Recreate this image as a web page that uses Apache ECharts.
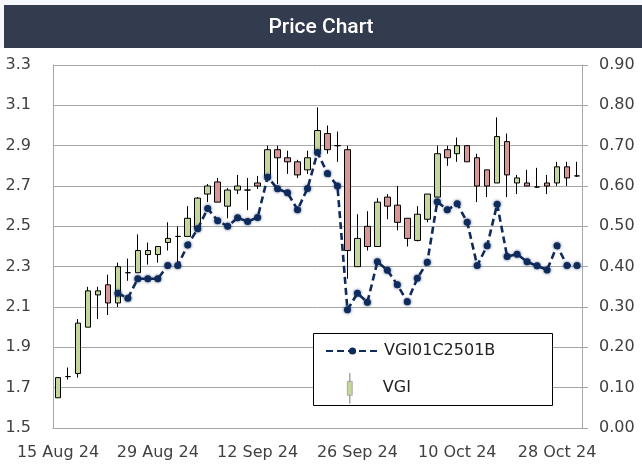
<!DOCTYPE html>
<html>
<head>
<meta charset="utf-8">
<script src="https://cdn.jsdelivr.net/npm/echarts@6/dist/echarts.min.js"></script>
<style>
  html, body { margin: 0; padding: 0; background: #fff; }
  #chart { width: 642px; height: 465px; }
</style>
</head>
<body>
<div id="chart"></div>
<script>
// trading days shown on the category axis
var dates = [
  '15 Aug 24','16 Aug 24','19 Aug 24','20 Aug 24','21 Aug 24','22 Aug 24','23 Aug 24','26 Aug 24','27 Aug 24','28 Aug 24',
  '29 Aug 24','30 Aug 24','2 Sep 24','3 Sep 24','4 Sep 24','5 Sep 24','6 Sep 24','9 Sep 24','10 Sep 24','11 Sep 24',
  '12 Sep 24','13 Sep 24','16 Sep 24','17 Sep 24','18 Sep 24','19 Sep 24','20 Sep 24','23 Sep 24','24 Sep 24','25 Sep 24',
  '26 Sep 24','27 Sep 24','30 Sep 24','1 Oct 24','2 Oct 24','3 Oct 24','4 Oct 24','7 Oct 24','8 Oct 24','9 Oct 24',
  '10 Oct 24','11 Oct 24','14 Oct 24','15 Oct 24','16 Oct 24','17 Oct 24','18 Oct 24','21 Oct 24','22 Oct 24','23 Oct 24',
  '28 Oct 24','29 Oct 24','30 Oct 24'
];

// VGI share price (left axis)
var opens  = [1.65,1.755,1.77,2.00,2.16,2.21,2.12,2.27,2.27,2.36, 2.36,2.42,2.45,2.45,2.49,2.66,2.72,2.60,2.68,2.68,
              2.715,2.75,2.88,2.84,2.82,2.78,2.875,2.96,2.90,2.88, 2.30,2.50,2.40,2.645,2.605,2.54,2.43,2.535,2.645,2.88,
              2.86,2.90,2.84,2.78,2.715,2.92,2.715,2.715,2.695,2.715, 2.715,2.795,2.75];
var closes = [1.75,1.755,2.02,2.18,2.18,2.12,2.30,2.27,2.38,2.38, 2.40,2.44,2.45,2.54,2.64,2.70,2.62,2.68,2.70,2.68,
              2.70,2.88,2.84,2.82,2.755,2.84,2.975,2.88,2.90,2.38, 2.44,2.40,2.62,2.60,2.52,2.44,2.56,2.66,2.86,2.84,
              2.90,2.82,2.70,2.70,2.945,2.755,2.74,2.70,2.695,2.70, 2.795,2.74,2.75];
var lows   = [1.65,1.74,1.75,2.00,2.04,2.06,2.10,2.23,2.27,2.31, 2.32,2.38,2.30,2.45,2.49,2.62,2.62,2.54,2.66,2.58,
              2.685,2.74,2.71,2.76,2.74,2.76,2.875,2.86,2.82,2.24, 2.30,2.38,2.40,2.535,2.48,2.40,2.425,2.52,2.645,2.80,
              2.82,2.82,2.62,2.645,2.715,2.645,2.66,2.70,2.69,2.66, 2.70,2.70,2.745];
var highs  = [1.75,1.80,2.04,2.20,2.20,2.26,2.32,2.34,2.46,2.42, 2.40,2.52,2.50,2.60,2.645,2.71,2.74,2.69,2.755,2.74,
              2.75,2.90,2.90,2.875,2.83,2.875,3.09,3.00,2.97,2.90, 2.56,2.575,2.64,2.66,2.70,2.54,2.60,2.66,2.90,2.90,
              2.94,2.90,2.86,2.78,3.04,2.96,2.755,2.78,2.79,2.755, 2.82,2.82,2.82];

// VGI01C2501B warrant price (right axis), starts trading on the 7th day
var warrant = [null,null,null,null,null,null,0.334,0.322,0.370,0.370,
               0.370,0.403,0.403,0.454,0.494,0.544,0.514,0.500,0.521,0.512,
               0.522,0.622,0.593,0.583,0.541,0.594,0.683,0.631,0.600,0.293,
               0.334,0.312,0.412,0.391,0.355,0.313,0.371,0.411,0.561,0.541,
               0.556,0.510,0.403,0.452,0.555,0.425,0.431,0.412,0.402,0.392,
               0.452,0.403,0.403];

var leftTicks = { min: 1.5, max: 3.3, step: 0.2 };
var rightTicks = { min: 0, max: 0.9, step: 0.1 };

var candles = dates.map(function (d, i) {
  return [opens[i], closes[i], lows[i], highs[i]];
});

var chart = echarts.init(document.getElementById('chart'));
var labelFont = { fontFamily: 'DejaVu Sans', fontSize: 16, color: '#404040' };
var legendText = { fontFamily: 'DejaVu Sans', fontSize: 16, color: '#222' };
var gridGrey = '#a6a6a6';
var navy = '#0f2b5b';

var option = {
  animation: false,
  backgroundColor: '#fff',
  graphic: [
    { type: 'rect', left: 0, top: 0, shape: { width: 642, height: 48 }, style: { fill: '#f6f7fb' }, z: 0 },
    { type: 'rect', left: 4, top: 5, shape: { width: 638, height: 43 }, style: { fill: '#333c4e' }, z: 1 },
    // legend frame
    { type: 'rect', left: 313, top: 333, shape: { x: 0.5, y: 0.5, width: 239, height: 72 },
      style: { fill: '#fff', stroke: '#000', lineWidth: 1 }, z: 10 }
  ],
  title: {
    text: 'Price Chart',
    left: 'center',
    top: 12,
    textStyle: { color: '#fff', fontFamily: 'Roboto', fontWeight: 500, fontSize: 21 },
    z: 5
  },
  legend: [
    {
      left: 325,
      top: 343,
      padding: 0,
      itemWidth: 53,
      itemHeight: 9,
      textStyle: legendText,
      data: ['VGI01C2501B'],
      z: 20
    },
    {
      left: 347,
      top: 373,
      padding: 0,
      itemWidth: 10,
      itemHeight: 30,
      textStyle: Object.assign({ padding: [0, 0, 0, 23] }, legendText),
      data: [{
        name: 'VGI',
        icon: 'path://M4.7,0h0.6v8h-0.6z M4.7,22h0.6v8h-0.6z M2.5,8h5v14h-5z',
        itemStyle: { color: '#c4d79b', borderColor: '#8a8a8a', borderWidth: 0.6 }
      }],
      z: 20
    }
  ],
  grid: { left: 53, right: 60, top: 65, bottom: 37 },
  xAxis: {
    type: 'category',
    data: dates,
    boundaryGap: true,
    axisLine: { lineStyle: { color: gridGrey, width: 1 } },
    axisTick: { show: false },
    axisLabel: Object.assign({ interval: 9, margin: 17 }, labelFont),
    splitLine: { show: false }
  },
  yAxis: [
    {
      type: 'value',
      min: leftTicks.min,
      max: leftTicks.max,
      interval: leftTicks.step,
      axisLine: { show: true, lineStyle: { color: gridGrey, width: 1 } },
      axisTick: { show: false },
      axisLabel: Object.assign({ margin: 22, formatter: function (v) { return v.toFixed(1); } }, labelFont),
      splitLine: { lineStyle: { color: gridGrey, width: 1 } }
    },
    {
      type: 'value',
      position: 'right',
      min: rightTicks.min,
      max: rightTicks.max,
      interval: rightTicks.step,
      axisLine: { show: true, lineStyle: { color: gridGrey, width: 1 } },
      axisTick: { show: true, length: 6, lineStyle: { color: gridGrey } },
      axisLabel: Object.assign({ margin: 17, formatter: function (v) { return v.toFixed(2); } }, labelFont),
      splitLine: { show: false }
    }
  ],
  series: [
    {
      name: 'VGI',
      type: 'candlestick',
      data: candles,
      barWidth: 6,
      itemStyle: {
        color: '#c4d79b',
        color0: '#da9694',
        borderColor: '#000',
        borderColor0: '#000',
        borderColorDoji: '#000',
        borderWidth: 1
      },
      z: 2
    },
    {
      name: 'VGI01C2501B',
      type: 'line',
      yAxisIndex: 1,
      data: warrant,
      symbol: 'circle',
      symbolSize: 7,
      showSymbol: true,
      showAllSymbol: true,
      lineStyle: { color: navy, width: 2.6, type: [7, 4] },
      itemStyle: { color: navy, shadowBlur: 3, shadowColor: 'rgba(15,43,91,0.8)' },
      z: 3
    }
  ]
};

chart.setOption(option);
</script>
</body>
</html>
